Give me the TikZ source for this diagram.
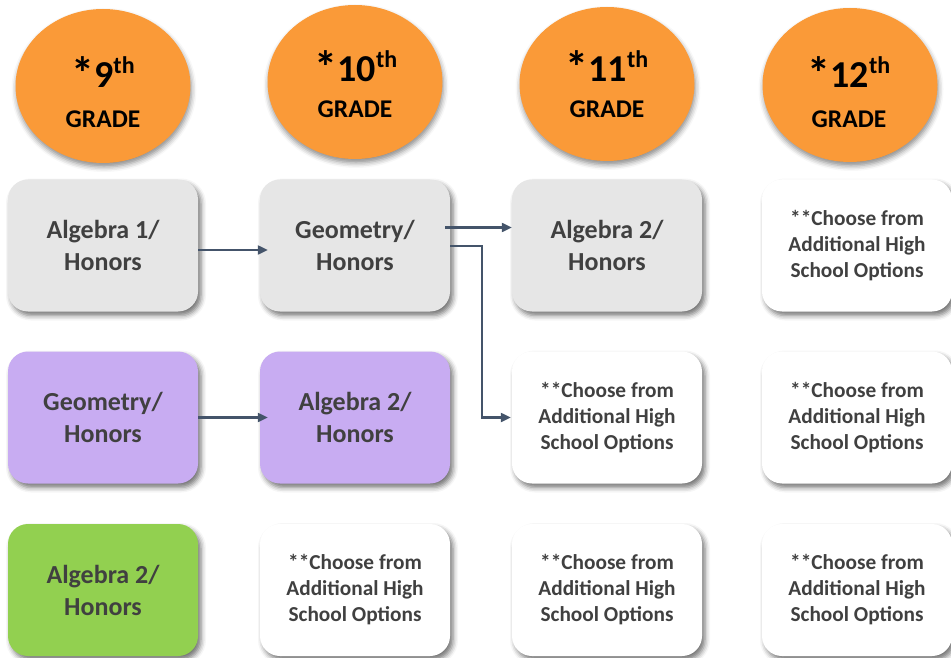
\documentclass[tikz,border=0pt]{standalone}
\usepackage{fontspec}
\setmainfont{Carlito}
\usetikzlibrary{shapes.geometric,arrows.meta,shadows.blur}
\definecolor{orng}{HTML}{FA9A38}
\definecolor{boxgray}{HTML}{E6E6E6}
\definecolor{purp}{HTML}{C8ACF2}
\definecolor{grn}{HTML}{92D050}
\definecolor{txt}{HTML}{404040}
\definecolor{arrc}{HTML}{44546A}
\newcommand{\thsup}{\raisebox{14pt}{\fontsize{24}{24}\selectfont th}}
\newcommand{\bigast}{\raisebox{-2pt}{\fontsize{46}{46}\selectfont *}}
\begin{document}
\begin{tikzpicture}[x=1pt,y=-1pt,
  course/.style={rectangle, rounded corners=20pt, minimum width=190pt, minimum height=132pt,
    inner sep=0pt, align=center, text=txt, font=\bfseries\fontsize{26}{32}\selectfont,
    blur shadow={shadow xshift=3pt, shadow yshift=-4pt, shadow blur radius=5pt, shadow opacity=55}},
  option/.style={course, fill=white, font=\bfseries\fontsize{21.3}{26}\selectfont},
  gradeell/.style={ellipse, fill=orng, minimum width=175pt, minimum height=154pt, inner sep=0pt,
    blur shadow={shadow xshift=1pt, shadow yshift=-4pt, shadow blur radius=5pt, shadow opacity=45}},
  gnum/.style={anchor=base, inner sep=0pt, font=\bfseries\fontsize{38}{38}\selectfont},
  gword/.style={anchor=base, inner sep=0pt, font=\bfseries\fontsize{25.5}{25.5}\selectfont},
  arr/.style={draw=arrc, line width=2.2pt, -{Triangle[length=10pt,width=9pt]}}
]
\useasboundingbox (0,0) rectangle (951,658);

% grade ellipses
\node[gradeell] (e9)  at (103,86) {};
\node[gradeell] (e10) at (355,82) {};
\node[gradeell] (e11) at (607,84) {};
\node[gradeell] (e12) at (850,85) {};

\node[gnum]  (n9)  at (103,88)  {\bigast 9\thsup};
\node[gword] (w9)  at (103,128) {GRADE};
\node[gnum]  (n10) at (356,82)  {\bigast 10\thsup};
\node[gword] (w10) at (355,118) {GRADE};
\node[gnum]  (n11) at (607,82)  {\bigast 11\thsup};
\node[gword] (w11) at (607,118) {GRADE};
\node[gnum]  (n12) at (849,88)  {\bigast 12\thsup};
\node[gword] (w12) at (849,128) {GRADE};

% row 1
\node[course, fill=boxgray] (r1c1) at (103,245.5) {Algebra 1/\\Honors};
\node[course, fill=boxgray] (r1c2) at (355,245.5) {Geometry/\\Honors};
\node[course, fill=boxgray] (r1c3) at (607,245.5) {Algebra 2/\\Honors};
\node[option] (r1c4) at (857,245.5) {**Choose from\\Additional High\\School Options};

% row 2
\node[course, fill=purp] (r2c1) at (103,417.5) {Geometry/\\Honors};
\node[course, fill=purp] (r2c2) at (355,417.5) {Algebra 2/\\Honors};
\node[option] (r2c3) at (607,417.5) {**Choose from\\Additional High\\School Options};
\node[option] (r2c4) at (857,417.5) {**Choose from\\Additional High\\School Options};

% row 3
\node[course, fill=grn] (r3c1) at (103,590) {Algebra 2/\\Honors};
\node[option] (r3c2) at (355,590) {**Choose from\\Additional High\\School Options};
\node[option] (r3c3) at (607,590) {**Choose from\\Additional High\\School Options};
\node[option] (r3c4) at (857,590) {**Choose from\\Additional High\\School Options};

% connectors
\draw[arr] ([yshift=-4.5pt]r1c1.east) -- ([xshift=8pt,yshift=-4.5pt]r1c2.west);
\draw[arr] ([xshift=-5pt,yshift=18pt]r1c2.east) -- ([yshift=18pt]r1c3.west);
\draw[arr] ([yshift=-0.5pt]r1c2.east) -- ++(32pt,0) |- ([xshift=-1pt]r2c3.west);
\draw[arr] (r2c1.east) -- ([xshift=8pt]r2c2.west);
\end{tikzpicture}
\end{document}
